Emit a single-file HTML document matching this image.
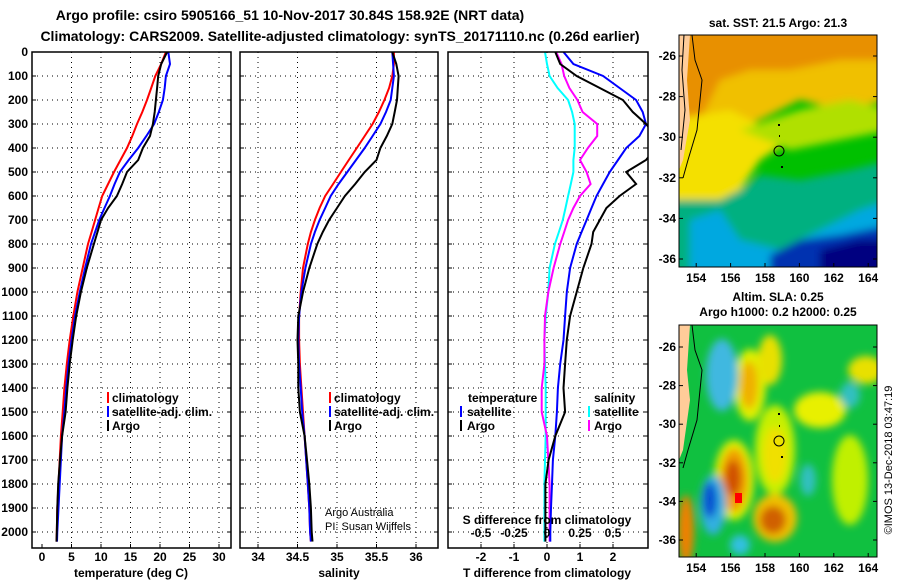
<!DOCTYPE html>
<html><head><meta charset="utf-8"><style>
body{margin:0;background:#fff;}
svg{display:block;font-family:"Liberation Sans",sans-serif;font-weight:bold;}
</style></head><body>
<svg id="s" width="900" height="580" viewBox="0 0 900 580">
<defs>
<filter id="bl" x="-50%" y="-50%" width="200%" height="200%"><feGaussianBlur stdDeviation="4"/></filter>
<filter id="bl2" x="-20%" y="-20%" width="140%" height="140%"><feGaussianBlur stdDeviation="4"/></filter>
<clipPath id="c1"><rect x="32" y="52" width="199" height="496"/></clipPath>
<clipPath id="c2"><rect x="240" y="52" width="198" height="496"/></clipPath>
<clipPath id="c3"><rect x="448" y="52" width="200" height="496"/></clipPath>
<clipPath id="m1"><rect x="679" y="35" width="198" height="232"/></clipPath>
<clipPath id="m2"><rect x="679" y="325" width="198" height="232"/></clipPath>
</defs>
<text x="290" y="20" font-size="14" text-anchor="middle">Argo profile: csiro 5905166_51 10-Nov-2017 30.84S 158.92E (NRT data)</text>
<text x="340" y="41" font-size="14" text-anchor="middle">Climatology: CARS2009. Satellite-adjusted climatology: synTS_20171110.nc (0.26d earlier)</text>

<!-- SST map -->
<g clip-path="url(#m1)">
<rect x="679" y="35" width="198" height="232" fill="#00c000"/>
<g filter="url(#bl2)">
<polygon points="670,25 890,25 890,100 840,110 800,100 760,120 720,135 700,130 670,140" fill="#f0c000"/>
<polygon points="670,25 890,25 890,60 840,60 790,70 750,70 720,80 700,120 670,130" fill="#e89000"/>
<polygon points="670,120 730,110 770,130 790,140 760,160 740,190 720,200 670,200" fill="#f4e000"/>
<polygon points="740,130 800,110 850,100 890,110 890,130 840,140 790,150" fill="#b0e000"/>
<polygon points="670,200 720,200 740,190 760,175 800,180 850,170 890,160 890,280 670,280" fill="#00b080"/>
<polygon points="690,220 720,210 740,240 780,250 820,230 860,210 890,200 890,280 690,280" fill="#00a8e0"/>
<polygon points="770,255 800,240 840,235 890,225 890,280 770,280" fill="#0030b0"/>
<polygon points="820,250 860,240 890,240 890,280 820,280" fill="#000080"/>
</g>
<polygon points="679,35 690,35 687,80 690,120 683,160 679,170" fill="#ffcc99"/>
<polyline points="692,35 695,60 702,80 697,130 688,160 683,178" fill="none" stroke="#000" stroke-width="1"/>
<polyline points="684,35 682,70 685,110 681,150" fill="none" stroke="#000" stroke-width="1"/>
<circle cx="779" cy="151" r="5" fill="none" stroke="#000" stroke-width="1"/>
<rect x="778" y="124" width="2" height="2"/><rect x="779" y="135" width="1" height="2"/><rect x="781" y="166" width="2" height="2"/>
</g>
<rect x="679" y="35" width="198" height="232" fill="none" stroke="#000"/>
<text x="778" y="27" font-size="12" text-anchor="middle">sat. SST: 21.5 Argo: 21.3</text>

<!-- SLA map -->
<g clip-path="url(#m2)">
<rect x="679" y="325" width="198" height="232" fill="#10c040"/>
<g filter="url(#bl)">
<ellipse cx="750" cy="385" rx="16" ry="36" fill="#e0f000"/>
<ellipse cx="749" cy="385" rx="9" ry="24" fill="#f0b000"/>
<ellipse cx="722" cy="375" rx="16" ry="36" fill="#40b8e0"/>
<ellipse cx="734" cy="480" rx="20" ry="40" fill="#e0f000"/>
<ellipse cx="734" cy="480" rx="14" ry="32" fill="#f0a000"/>
<ellipse cx="733" cy="478" rx="8" ry="18" fill="#d05000"/>
<ellipse cx="713" cy="505" rx="13" ry="30" fill="#30b0e0"/>
<ellipse cx="710" cy="500" rx="7" ry="18" fill="#0050d0"/>
<ellipse cx="775" cy="450" rx="20" ry="45" fill="#c8f000"/>
<ellipse cx="775" cy="455" rx="12" ry="28" fill="#f0e000"/>
<ellipse cx="775" cy="518" rx="22" ry="24" fill="#f0c000"/>
<ellipse cx="773" cy="520" rx="13" ry="14" fill="#d06000"/>
<ellipse cx="820" cy="410" rx="26" ry="18" fill="#e8f000"/>
<ellipse cx="850" cy="395" rx="10" ry="13" fill="#30c0c0"/>
<ellipse cx="866" cy="370" rx="18" ry="14" fill="#e8e000"/>
<ellipse cx="770" cy="360" rx="12" ry="25" fill="#e8e000"/>
<ellipse cx="850" cy="480" rx="18" ry="45" fill="#c0f000"/>
<ellipse cx="686" cy="530" rx="8" ry="35" fill="#f08000"/>
<ellipse cx="808" cy="480" rx="8" ry="16" fill="#30c0c0"/>
<ellipse cx="740" cy="545" rx="10" ry="10" fill="#30c0e0"/>
</g>
<rect x="735" y="493" width="7" height="10" fill="#ff0000"/>
<polygon points="679,325 690,325 687,370 690,400 683,450 679,460" fill="#ffcc99"/>
<polyline points="692,325 695,350 702,370 697,420 688,450 683,468" fill="none" stroke="#000" stroke-width="1"/>
<circle cx="779" cy="441" r="5" fill="none" stroke="#000" stroke-width="1"/>
<rect x="778" y="413" width="2" height="2"/><rect x="779" y="425" width="1" height="2"/><rect x="781" y="456" width="2" height="2"/>
</g>
<rect x="679" y="325" width="198" height="232" fill="none" stroke="#000"/>
<text x="778" y="301" font-size="12" text-anchor="middle">Altim. SLA: 0.25</text>
<text x="778" y="316" font-size="12" text-anchor="middle">Argo h1000: 0.2 h2000: 0.25</text>
<text transform="translate(892,460) rotate(-90)" font-size="11" font-weight="normal" text-anchor="middle">©IMOS 13-Dec-2018 03:47:19</text>
<g id="dyn"></g>
</svg>
<script>
const depths=[0,50,100,150,200,250,300,350,400,450,500,550,600,650,700,750,800,900,1000,1100,1200,1300,1400,1500,1600,1700,1800,1900,2000,2040];
const tempClim=[21.0,20.2,19.2,18.5,17.8,17.0,16.1,15.3,14.4,13.3,12.2,11.2,10.2,9.6,9.0,8.4,7.8,6.9,6.0,5.3,4.7,4.2,3.8,3.5,3.2,3.0,2.8,2.6,2.5,2.45];
const tempSat=[21.4,21.7,21.0,20.8,20.5,19.8,19.0,17.7,16.3,14.7,13.2,12.3,11.5,10.6,9.7,9.0,8.3,7.3,6.4,5.6,5.0,4.5,4.1,3.8,3.4,3.2,3.0,2.8,2.6,2.55];
const tempArgo=[21.2,20.2,19.7,19.5,19.3,19.1,18.8,18.3,17.1,16.3,14.4,13.6,12.7,11.2,10.0,9.4,8.8,7.6,6.6,5.8,5.2,4.7,4.3,4.0,3.4,3.05,2.75,2.6,2.5,2.45];
const salClim=[35.72,35.72,35.70,35.66,35.60,35.53,35.45,35.35,35.25,35.15,35.05,34.95,34.85,34.78,34.72,34.67,34.63,34.57,34.54,34.52,34.52,34.53,34.55,34.57,34.59,34.61,34.63,34.65,34.66,34.67];
const salSat=[35.70,35.71,35.72,35.70,35.68,35.62,35.55,35.45,35.35,35.24,35.13,35.02,34.92,34.85,34.78,34.72,34.67,34.60,34.55,34.52,34.51,34.52,34.54,34.56,34.59,34.61,34.63,34.65,34.66,34.67];
const salArgo=[35.70,35.75,35.78,35.77,35.76,35.73,35.70,35.63,35.55,35.50,35.35,35.23,35.10,35.00,34.90,34.82,34.75,34.65,34.57,34.51,34.50,34.51,34.51,34.53,34.59,34.62,34.65,34.67,34.68,34.69];
const dTSat=[0.5,0.8,1.7,2.2,2.7,2.9,3.0,2.8,2.4,2.15,1.9,1.7,1.5,1.35,1.2,1.05,0.9,0.7,0.6,0.55,0.5,0.4,0.33,0.3,0.25,0.18,0.15,0.12,0.1,0.1];
const dTArgo=[0.25,0.4,0.9,1.6,2.3,2.6,3.0,3.3,3.3,3.0,2.4,2.7,2.2,1.8,1.6,1.4,1.35,1.1,0.9,0.7,0.6,0.55,0.5,0.55,0.25,0.05,-0.05,-0.05,-0.05,-0.05];
const dSSat=[-0.015,0.0,0.02,0.08,0.16,0.19,0.21,0.21,0.21,0.2,0.2,0.18,0.16,0.14,0.12,0.09,0.06,0.02,0.01,-0.01,-0.02,-0.015,-0.01,-0.01,-0.01,-0.015,-0.02,-0.02,-0.02,-0.02];
const dSArgo=[0.07,0.11,0.13,0.17,0.23,0.27,0.38,0.38,0.31,0.25,0.3,0.33,0.25,0.2,0.16,0.13,0.1,0.05,0.01,-0.015,-0.02,-0.02,-0.04,-0.04,0.0,0.01,0.02,0.02,0.02,0.02];
const depthTicks=[0,100,200,300,400,500,600,700,800,900,1000,1100,1200,1300,1400,1500,1600,1700,1800,1900,2000];
const tempTicks=[0,5,10,15,20,25,30];
const salTicks=[34,34.5,35,35.5,36];
const dTTicks=[-2,-1,0,1,2];
const dSTicks=[-0.5,-0.25,0,0.25,0.5];
const dSLabels=["-0.5","-0.25","0","0.25","0.5"];
const lonTicks=[154,156,158,160,162,164];
const latTicks=[-26,-28,-30,-32,-34,-36];

const NS='http://www.w3.org/2000/svg';
const G=document.getElementById('dyn');
function mk(t,a,p){const e=document.createElementNS(NS,t);for(const k in a)e.setAttribute(k,a[k]);(p||G).appendChild(e);return e;}
const yD=d=>52+d*0.24;
const xT=v=>42+v*5.9;
const xS=v=>258+(v-34)*79;
const xDT=v=>547+v*33;
const xDS=v=>547+v*132;
const yTop=52,yBot=548;
const panels=[{l:32,r:231,clip:'c1'},{l:240,r:438,clip:'c2'},{l:448,r:648,clip:'c3'}];

function grid(p,xs,name){
  const g=mk('g',{});
  
  
  depthTicks.forEach(d=>{if(d>0)mk('line',{x1:p.l,x2:p.r,y1:yD(d),y2:yD(d),stroke:'#000','stroke-width':1,'stroke-dasharray':'1,4'},g);});
  xs.forEach(x=>mk('line',{x1:x,x2:x,y1:yTop,y2:yBot,stroke:'#000','stroke-width':1,'stroke-dasharray':'1,4'},g));
}
grid(panels[0],tempTicks.filter(v=>v>0).map(xT),'temperature-grid');
grid(panels[1],salTicks.map(xS),'salinity-grid');
grid(panels[2],dTTicks.map(xDT),'difference-grid');

function line(vals,xf,color,clip,name,w){
  const pts=[];vals.forEach((v,i)=>{if(v!==null)pts.push(xf(v).toFixed(1)+','+yD(depths[i]).toFixed(1));});
  const e=mk('polyline',{points:pts.join(' '),fill:'none',stroke:color,'stroke-width':w||2,'clip-path':'url(#'+clip+')'});
  
  
}
line(tempClim,xT,'#f00','c1','temp-climatology-line');
line(tempSat,xT,'#00f','c1','temp-satellite-line');
line(tempArgo,xT,'#000','c1','temp-argo-line');
line(salClim,xS,'#f00','c2','sal-climatology-line');
line(salSat,xS,'#00f','c2','sal-satellite-line');
line(salArgo,xS,'#000','c2','sal-argo-line');
line(dSSat,xDS,'#0ff','c3','sdiff-satellite-line');
line(dSArgo,xDS,'#f0f','c3','sdiff-argo-line');
line(dTSat,xDT,'#00f','c3','tdiff-satellite-line');
line(dTArgo,xDT,'#000','c3','tdiff-argo-line');

panels.forEach((p,i)=>{
  const r=mk('rect',{x:p.l,y:yTop,width:p.r-p.l,height:yBot-yTop,fill:'none',stroke:'#000','stroke-width':1.5});
  
  
  depthTicks.forEach(d=>{mk('line',{x1:p.l,x2:p.l+4,y1:yD(d),y2:yD(d),stroke:'#000'});mk('line',{x1:p.r-4,x2:p.r,y1:yD(d),y2:yD(d),stroke:'#000'});});
});
depthTicks.forEach(d=>{
  const t=mk('text',{x:28,y:yD(d)+4,'font-size':12,'text-anchor':'end'});t.textContent=d;
  
  
});
function xlabels(ticks,xf,y,labels,name){
  ticks.forEach((v,i)=>{
    const t=mk('text',{x:xf(v),y:y,'font-size':12,'text-anchor':'middle'});t.textContent=labels?labels[i]:v;
    
    
    if(y>540)mk('line',{x1:xf(v),x2:xf(v),y1:yBot,y2:yBot-4,stroke:'#000'});
  });
}
xlabels(tempTicks,xT,561,null,'temp-tick-label');
xlabels(salTicks,xS,561,null,'sal-tick-label');
xlabels(dTTicks,xDT,561,null,'tdiff-tick-label');
xlabels(dSTicks,xDS,537,dSLabels,'sdiff-tick-label');
function txt(x,y,s,size,anchor,name,fill,weight){
  const t=mk('text',{x:x,y:y,'font-size':size,'text-anchor':anchor||'start',fill:fill||'#000'});
  if(weight)t.setAttribute('font-weight',weight);
  t.textContent=s;
  
  
}
txt(131,577,'temperature (deg C)',12,'middle','temp-axis-title');
txt(339,577,'salinity',12,'middle','sal-axis-title');
txt(547,577,'T difference from climatology',12,'middle','tdiff-axis-title');
txt(547,524,'S difference from climatology',12,'middle','sdiff-axis-title');
txt(325,516,'Argo Australia',11,'start','credit-argo-australia','#000','normal');
txt(325,530,'PI: Susan Wijffels',11,'start','credit-pi','#000','normal');

function legItem(x,y,color,label,name,barLeft){
  mk('rect',{x:barLeft,y:y-10,width:2,height:11,fill:color});
  txt(x,y,label,12,'start',name);
}
legItem(112,402,'#f00','climatology','legend-temp-climatology',107);
legItem(112,416,'#00f','satellite-adj. clim.','legend-temp-satellite',107);
legItem(112,430,'#000','Argo','legend-temp-argo',107);
legItem(334,402,'#f00','climatology','legend-sal-climatology',329);
legItem(334,416,'#00f','satellite-adj. clim.','legend-sal-satellite',329);
legItem(334,430,'#000','Argo','legend-sal-argo',329);
txt(468,402,'temperature',12,'start','legend-temperature-heading');
legItem(467,416,'#00f','satellite','legend-tdiff-satellite',460);
legItem(467,430,'#000','Argo','legend-tdiff-argo',460);
txt(594,402,'salinity',12,'start','legend-salinity-heading');
legItem(594,416,'#0ff','satellite','legend-sdiff-satellite',588);
legItem(594,430,'#f0f','Argo','legend-sdiff-argo',588);

const xLon=v=>679+(v-153)*17.2;
lonTicks.forEach(v=>{
  [[267,281],[557,571]].forEach(([b,ty])=>{
    mk('line',{x1:xLon(v),x2:xLon(v),y1:b,y2:b-4,stroke:'#000'});
    const t=mk('text',{x:xLon(v),y:ty+1,'font-size':12,'text-anchor':'middle'});t.textContent=v;
    
    
  });
});
latTicks.forEach(v=>{
  [[56,20.3],[347,19.3]].forEach(([y0,s])=>{
    const y=y0+(-26-v)*s;
    mk('line',{x1:679,x2:683,y1:y,y2:y,stroke:'#000'});
    mk('line',{x1:877,x2:873,y1:y,y2:y,stroke:'#000'});
    const t=mk('text',{x:676,y:y+4,'font-size':12,'text-anchor':'end'});t.textContent=v;
    
    
  });
});
</script>
</body></html>
